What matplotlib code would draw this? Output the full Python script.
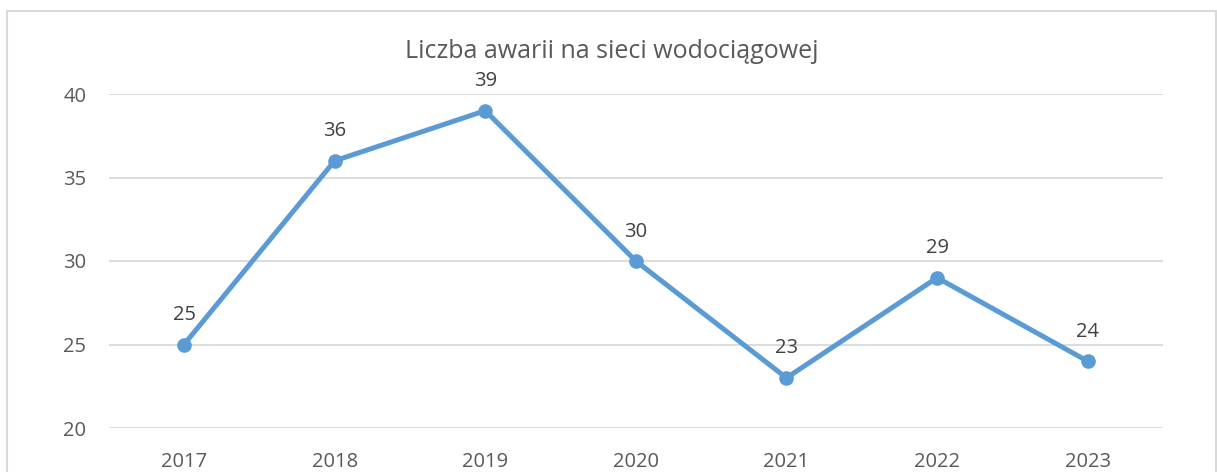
import matplotlib.pyplot as plt
from matplotlib.patches import Rectangle

years = ['2017', '2018', '2019', '2020', '2021', '2022', '2023']
awarie = [25, 36, 39, 30, 23, 29, 24]
yticks = [20, 25, 30, 35, 40]

txt_c = '#595959'
lab_c = '#404040'
line_c = '#5B9BD5'
grid_c = '#D9D9D9'

plt.rcParams['font.family'] = ['Open Sans', 'DejaVu Sans']

fig = plt.figure(figsize=(12.17, 4.72), dpi=100)
ax = fig.add_axes([108.7/1217, 1-428/472, (1163-108.7)/1217, (428-94)/472])

x = list(range(len(years)))
ax.plot(x, awarie, color=line_c, lw=3.6, marker='o', ms=9.5, zorder=3)
for xi, v in zip(x, awarie):
    ax.annotate(str(v), (xi, v), xytext=(0, 14), textcoords='offset points',
                ha='center', va='bottom', fontsize=14.5, color=lab_c)

ax.set_xlim(-0.5, len(years) - 0.5)
ax.set_ylim(20, 40)
ax.set_yticks(yticks)
ax.set_xticks(x)
ax.set_xticklabels(years)
ax.grid(axis='y', color=grid_c, lw=1.3)
ax.set_axisbelow(True)
for s in ax.spines.values():
    s.set_visible(False)
ax.tick_params(length=0, labelsize=14.5, labelcolor=txt_c)
ax.tick_params(axis='x', pad=17)
ax.tick_params(axis='y', pad=16)

fig.text(612/1217, 1-52/472, 'Liczba awarii na sieci wodociągowej',
         ha='center', va='center', fontsize=18, color=txt_c)

fig.patches.append(Rectangle((7/1217, -0.1), (1216-7)/1217, 1.1 - 11/472,
                             transform=fig.transFigure, fill=False,
                             edgecolor=grid_c, lw=1.5))

fig.savefig('out.png', dpi=100)
